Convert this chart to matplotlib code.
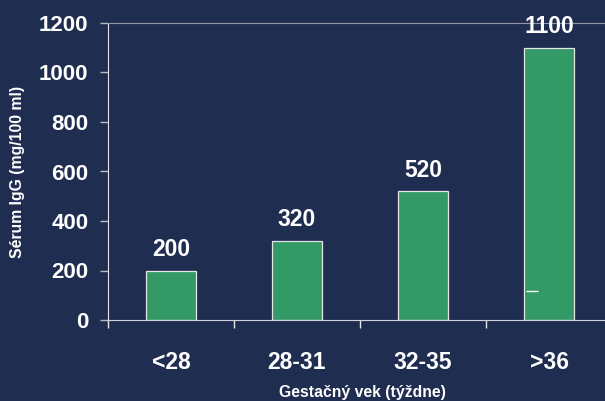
import matplotlib.pyplot as plt
import numpy as np

# data
categories = ['<28', '28-31', '32-35', '>36']
igg_values = [200, 320, 520, 1100]
y_ticks = [0, 200, 400, 600, 800, 1000, 1200]
stray_mark = 117  # small white dash drawn inside the last bar

bg = '#1F2D50'
bar_color = '#339966'

plt.rcParams['font.family'] = ['Liberation Sans', 'DejaVu Sans']
plt.rcParams['font.weight'] = 'bold'

fig = plt.figure(figsize=(6.05, 4.01), dpi=100, facecolor=bg)
ax = fig.add_axes([108 / 605, 1 - 320 / 401, 504 / 605, 297 / 401], facecolor=bg)

x = np.arange(len(categories))
bars = ax.bar(x, igg_values, width=0.4, color=bar_color, edgecolor='#E6E6E6', linewidth=0.9)

for xi, v in zip(x, igg_values):
    ax.annotate(str(v), (xi, v), xytext=(0, 7), textcoords='offset points',
                ha='center', va='bottom', color='white', fontsize=16.5, fontweight='bold')

# little white dash inside the last bar
ax.hlines(stray_mark, x[-1] - 0.18, x[-1] - 0.09, color='white', linewidth=1)

ax.set_xlim(-0.5, 3.5)
ax.set_ylim(0, 1200)
ax.set_yticks(y_ticks)
ax.set_xticks(x)
ax.set_xticklabels(categories)
ax.set_xticks([-0.5, 0.5, 1.5, 2.5], minor=True)

ax.tick_params(axis='y', colors='#B8BCC8', length=6, width=1, pad=8,
               labelcolor='white', labelsize=16)
ax.tick_params(axis='x', which='major', length=0, pad=22, labelcolor='white', labelsize=16.5)
ax.tick_params(axis='x', which='minor', colors='#E6E6E6', length=6, width=1, direction='out')

ax.spines['left'].set_color('#E6E6E6')
ax.spines['bottom'].set_color('#D0D3DA')
ax.spines['top'].set_color('#9096A8')
ax.spines['right'].set_visible(False)

ax.set_ylabel('Sérum IgG (mg/100 ml)', color='white', fontsize=11.3, fontweight='bold', labelpad=10)
fig.text(362 / 605, 1 - 393 / 401, 'Gestačný vek (týždne)', color='white', fontsize=11.3,
         fontweight='bold', ha='center', va='center')

fig.savefig('out.png', dpi=100, facecolor=bg)
